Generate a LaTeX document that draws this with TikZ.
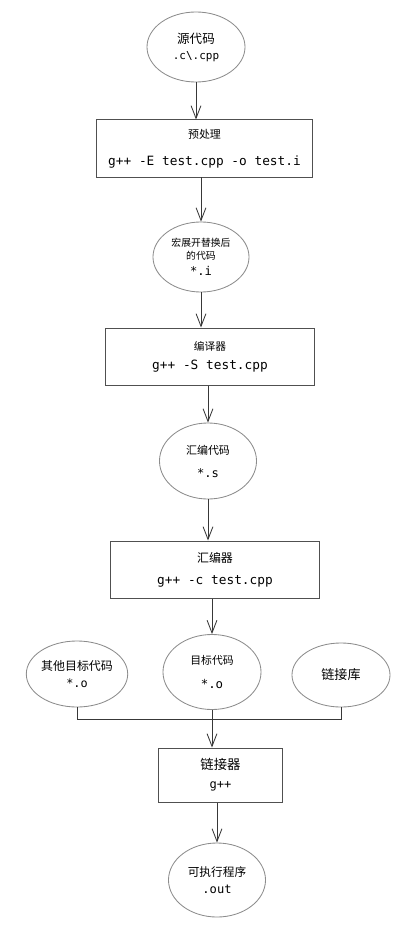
\documentclass[tikz,border=0pt]{standalone}
\usepackage{fontspec}
\usetikzlibrary{arrows.meta, calc, positioning, shapes.geometric}
\newfontfamily\zhfont{Noto Sans CJK SC}
\newfontfamily\codefont{DejaVu Sans Mono}
\newcommand{\zhtxt}[2]{{\zhfont\fontsize{#1}{12}\selectfont #2}}
\newcommand{\codetxt}[2]{{\codefont\fontsize{#1}{12}\selectfont #2}}
\definecolor{filegray}{HTML}{8C8C8C}
\definecolor{stagegray}{HTML}{505050}
\definecolor{linegray}{HTML}{383838}
\tikzset
{%
file/.style={ellipse, draw=filegray, line width=0.6pt, inner sep=0pt, align=center, font=\fontsize{8}{12}\selectfont},
stage/.style={rectangle, draw=stagegray, line width=0.7pt, inner sep=0pt, align=center, font=\fontsize{8}{12}\selectfont},
flow/.style={->, draw=linegray, line width=0.6pt},
merger/.style={draw=linegray, line width=0.6pt}
}

\begin{document}
\begin{tikzpicture}[x=0.025cm, y=-0.025cm, >={Straight Barb[length=9pt,width=7pt]}]
		\useasboundingbox (0,0) rectangle (409,932);
		
		%Preprocess
		\node[file, minimum width=2.45cm, minimum height=1.75cm] (src) at (196,47) {\zhtxt{8.9}{源代码}\\[-0.6pt]\codetxt{7.8}{.c\textbackslash.cpp}};
		\node[stage, minimum width=5.375cm, minimum height=1.425cm] (pre) at (204.5,148.5) {\zhtxt{7.8}{预处理}\\[7pt]\codetxt{9.1}{g++ -E test.cpp -o test.i}};
		\node[file, minimum width=2.4cm, minimum height=1.75cm] (ii) at (201,257) {\zhtxt{7}{宏展开替换后}\\[-2.8pt]\zhtxt{7}{的代码}\\[-0.6pt]\codetxt{8.6}{*.i}};
		
		%Compile
		\node[stage, minimum width=5.2cm, minimum height=1.425cm] (cmp) at (210,356.5) {\zhtxt{7.6}{编译器}\\[1.5pt]\codetxt{9.1}{g++ -S test.cpp}};
		\node[file, minimum width=2.425cm, minimum height=1.9cm] (ss) at (208,461) {\zhtxt{7.8}{汇编代码}\\[4.4pt]\codetxt{8.6}{*.s}};
		
		%Assemble
		\node[stage, minimum width=5.2cm, minimum height=1.425cm] (asm) at (215,569.5) {\zhtxt{8.5}{汇编器}\\[3.6pt]\codetxt{9.1}{g++ -c test.cpp}};
		\node[file, minimum width=2.45cm, minimum height=1.65cm] (oth) at (77,674) {\zhtxt{8.5}{其他目标代码}\\[0pt]\codetxt{8.4}{*.o}};
		\node[file, minimum width=2.45cm, minimum height=1.875cm] (obj) at (212,672) {\zhtxt{7.7}{目标代码}\\[5pt]\codetxt{8.8}{*.o}};
		\node[file, minimum width=2.45cm, minimum height=1.6cm] (lib) at (341,675) {\zhtxt{9.3}{链接库}};
		
		%Link
		\node[stage, minimum width=3.075cm, minimum height=1.35cm] (lnk) at (220.5,775) {\zhtxt{9.5}{链接器}\\[1.5pt]\codetxt{8.6}{g++}};
		\node[file, minimum width=2.425cm, minimum height=1.85cm] (out) at (217,880) {\zhtxt{8.3}{可执行程序}\\[0pt]\codetxt{8.6}{.out}};
		
		\coordinate (merge) at ($(obj.south)+(0,9)$);
		\draw[flow] (src.south) -- (src.south |- pre.north);
		\draw[flow] (ii.north |- pre.south) -- (ii.north);
		\draw[flow] (ii.south) -- (ii.south |- cmp.north);
		\draw[flow] (ss.north |- cmp.south) -- (ss.north);
		\draw[flow] (ss.south) -- (ss.south |- asm.north);
		\draw[flow] (obj.north |- asm.south) -- (obj.north);
		\draw[merger] (oth.south) |- (merge) -| (lib.south);
		\draw[flow] (obj.south) -- (obj.south |- lnk.north);
		\draw[flow] (out.north |- lnk.south) -- (out.north);
	\end{tikzpicture}
\end{document}
